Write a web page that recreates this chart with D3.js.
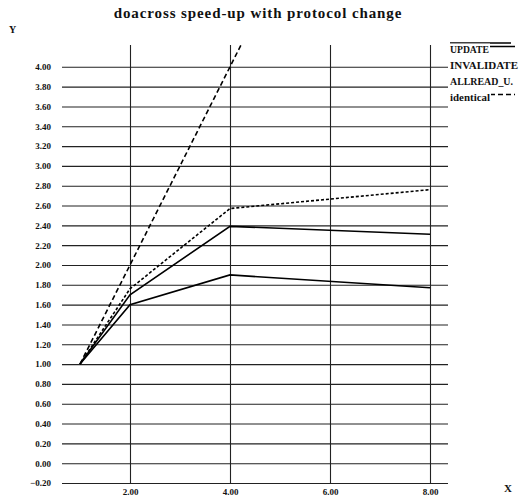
<!DOCTYPE html>
<html>
<head>
<meta charset="utf-8">
<script src="https://cdn.jsdelivr.net/npm/d3@7"></script>
<style>
  body { margin: 0; background: #fff; }
  svg { display: block; }
  text { font-family: "Liberation Serif", "DejaVu Serif", serif; fill: #111; }
</style>
</head>
<body>
<svg id="chart" width="531" height="504"></svg>
<script>
// processors on the x axis
var procs = [1, 2, 4, 8];
// speed-up per protocol
var update = [1.00, 1.70, 2.39, 2.31];
var invalidate = [1.00, 1.60, 1.90, 1.77];
var allreadU = [1.00, 1.76, 2.57, 2.76];
var identical = [1.00, 2.00, 4.00, 8.00];

var seriesNames = ["UPDATE", "INVALIDATE", "ALLREAD_U.", "identical"];
var seriesValues = [update, invalidate, allreadU, identical];
var seriesDash = [null, null, "3,2", "5,3"];
// printed width of each legend name
var legendWidths = [39, 68, 63, 40];

var xTicks = [2, 4, 6, 8];
var yTicks = d3.range(-0.2, 4.01, 0.2).map(function(v) { return Math.round(v * 100) / 100; });

function renderChart(svgSelector) {
  var svg = d3.select(svgSelector);

  // plot area edges
  var margin = {left: 62, right: 448, top: 45, bottom: 483};

  var x = d3.scaleLinear().domain([0.64, 8.36]).range([margin.left, margin.right]);
  var y = d3.scaleLinear().domain([-0.2, 4.22]).range([margin.bottom, margin.top]);

  // title and axis names
  svg.append("text")
      .attr("x", 258).attr("y", 18)
      .attr("text-anchor", "middle")
      .style("font-size", "15px").style("font-weight", "bold")
      .style("letter-spacing", "0.9px")
      .text("doacross speed-up with protocol change");

  svg.append("text")
      .attr("x", 9).attr("y", 33)
      .style("font-size", "10px").style("font-weight", "bold")
      .text("Y");

  svg.append("text")
      .attr("x", 504).attr("y", 492)
      .style("font-size", "11px").style("font-weight", "bold")
      .text("X");

  // horizontal grid with y labels
  var yAxis = svg.append("g")
      .attr("class", "axis axis--y")
      .attr("transform", "translate(" + margin.left + ",0)")
      .call(d3.axisLeft(y).tickValues(yTicks).tickFormat(d3.format(".2f"))
          .tickSize(-(margin.right - margin.left)).tickPadding(11));
  yAxis.select(".domain").remove();
  yAxis.selectAll("line").attr("stroke", "#222").attr("stroke-width", 1.1);
  yAxis.selectAll("text")
      .style("font-size", "9px").style("font-weight", "bold")
      .attr("fill", "#111");

  // vertical grid with x labels
  var xAxis = svg.append("g")
      .attr("class", "axis axis--x")
      .attr("transform", "translate(0," + margin.bottom + ")")
      .call(d3.axisBottom(x).tickValues(xTicks).tickFormat(d3.format(".2f"))
          .tickSize(-(margin.bottom - margin.top)).tickPadding(6));
  xAxis.select(".domain").remove();
  xAxis.selectAll("line").attr("stroke", "#222").attr("stroke-width", 1.1);
  xAxis.selectAll("text")
      .style("font-size", "9px").style("font-weight", "bold")
      .attr("fill", "#111");

  // clip the lines to the plot area
  svg.append("clipPath").attr("id", "plotclip")
    .append("rect")
      .attr("x", margin.left).attr("y", margin.top)
      .attr("width", margin.right - margin.left)
      .attr("height", margin.bottom - margin.top);

  var line = d3.line()
      .x(function(d, i) { return x(procs[i]); })
      .y(function(d) { return y(d); });

  svg.append("g")
      .attr("clip-path", "url(#plotclip)")
    .selectAll(".series")
    .data(seriesValues)
    .enter().append("path")
      .attr("class", "series")
      .attr("d", line)
      .attr("fill", "none")
      .attr("stroke", "#000")
      .attr("stroke-width", 1.6)
      .attr("stroke-dasharray", function(d, i) { return seriesDash[i]; });

  // legend: top rule, then sample lines partly hidden behind the names
  var legend = svg.append("g").attr("class", "legend");
  legend.append("line")
      .attr("x1", 450).attr("x2", 511)
      .attr("y1", 43).attr("y2", 43)
      .attr("stroke", "#000").attr("stroke-width", 1.4);
  seriesNames.forEach(function(name, i) {
    var base = 52.5 + i * 16;
    // background first so the sample shows only past the name
    legend.append("line")
        .attr("x1", 450).attr("x2", 515)
        .attr("y1", base - 6).attr("y2", base - 6)
        .attr("stroke", "#000").attr("stroke-width", 1.3)
        .attr("stroke-dasharray", seriesDash[i]);
    legend.append("rect")
        .attr("x", 449).attr("y", base - 9)
        .attr("width", legendWidths[i] + 2).attr("height", 12)
        .attr("fill", "#fff");
    legend.append("text")
        .attr("x", 450).attr("y", base)
        .attr("textLength", legendWidths[i])
        .attr("lengthAdjust", "spacingAndGlyphs")
        .style("font-size", "9.5px").style("font-weight", "bold")
        .text(name);
  });
}

renderChart("#chart");
</script>
</body>
</html>
